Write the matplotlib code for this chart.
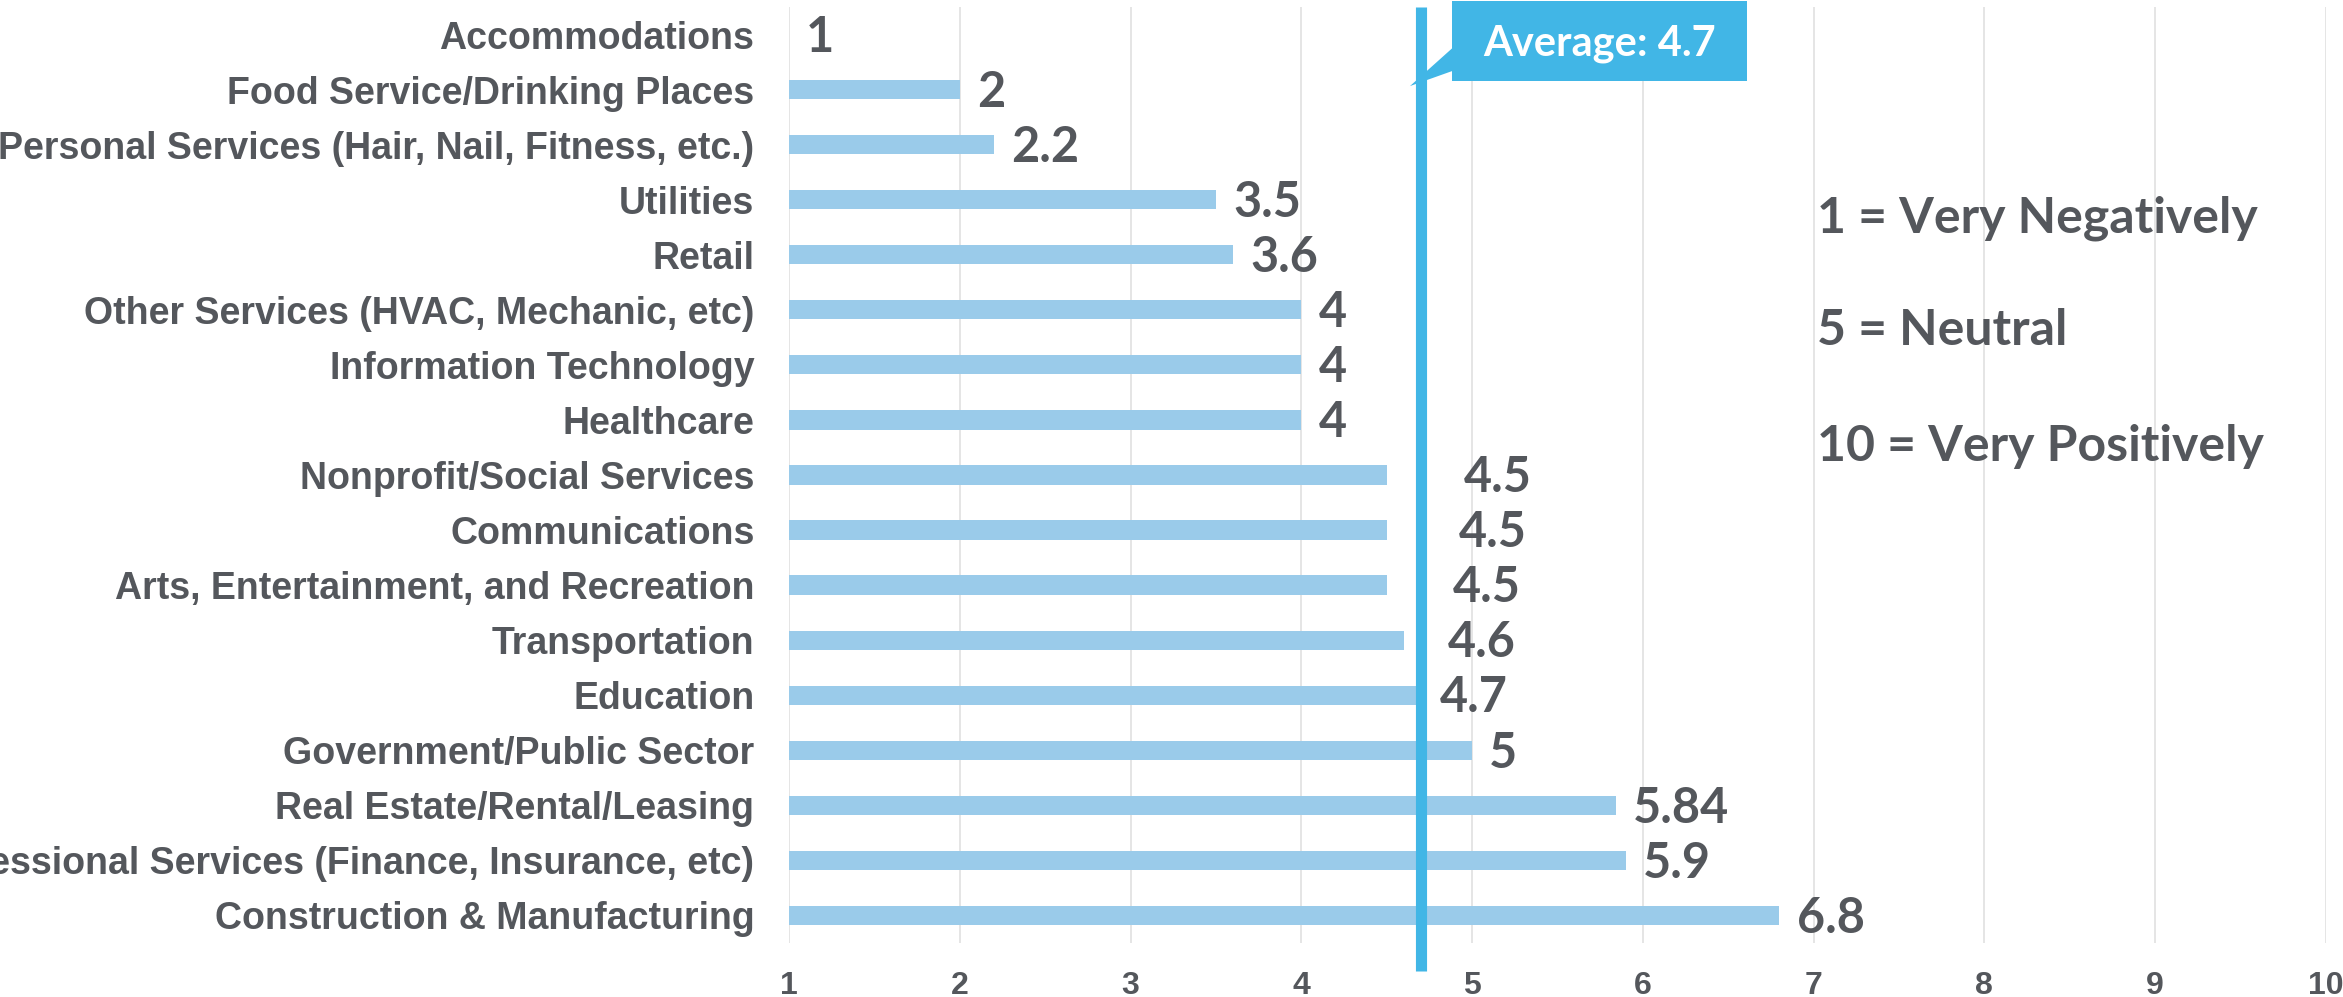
import matplotlib
matplotlib.use("Agg")
import matplotlib.pyplot as plt
from matplotlib.patches import Rectangle, Polygon
from matplotlib.transforms import blended_transform_factory

# data, top to bottom as shown
categories = [
    "Accommodations",
    "Food Service/Drinking Places",
    "Personal Services (Hair, Nail, Fitness, etc.)",
    "Utilities",
    "Retail",
    "Other Services (HVAC, Mechanic, etc)",
    "Information Technology",
    "Healthcare",
    "Nonprofit/Social Services",
    "Communications",
    "Arts, Entertainment, and Recreation",
    "Transportation",
    "Education",
    "Government/Public Sector",
    "Real Estate/Rental/Leasing",
    "Professional Services (Finance, Insurance, etc)",
    "Construction & Manufacturing",
]
scores = [1, 2, 2.2, 3.5, 3.6, 4, 4, 4, 4.5, 4.5, 4.5, 4.6, 4.7, 5, 5.84, 5.9, 6.8]
score_labels = ["1", "2", "2.2", "3.5", "3.6", "4", "4", "4", "4.5", "4.5", "4.5",
                "4.6", "4.7", "5", "5.84", "5.9", "6.8"]
average = 4.7
x_ticks = [1, 2, 3, 4, 5, 6, 7, 8, 9, 10]
scale_notes = ["1 = Very Negatively", "5 = Neutral", "10 = Very Positively"]

# label nudges so the numbers clear the average line
label_shift = [0.1] * 8 + [0.45, 0.42, 0.39, 0.26, 0.11, 0.1, 0.1, 0.1, 0.1]

GRAY = "#54575C"
BAR = "#9ACBEA"
AVG = "#41B6E6"
LABEL_FONT = "Liberation Sans"
NUM_FONT = "Lato"

fig = plt.figure(figsize=(23.43, 9.97), dpi=100)
ax = fig.add_axes([0.3368, 0.0542, 0.6559, 0.9388])

n = len(categories)
ypos = [n - 1 - i for i in range(n)]

ax.barh(ypos, [s - 1 for s in scores], left=1, height=0.35, color=BAR, zorder=2)

for y, s, lab, dx in zip(ypos, scores, score_labels, label_shift):
    ax.text(s + dx, y - 0.05, lab, ha="left", va="center", fontsize=35,
            fontfamily=NUM_FONT, fontweight="bold", color=GRAY, zorder=4)

ax.set_xlim(1, 10)
ax.set_ylim(-0.5, n - 0.5)
ax.set_xticks(x_ticks)
ax.set_xticklabels([str(t) for t in x_ticks])
ax.set_yticks(ypos)
ax.set_yticklabels(categories)

for lab in ax.get_yticklabels():
    lab.set_fontfamily(LABEL_FONT)
    lab.set_fontweight("bold")
    lab.set_fontsize(27)
    lab.set_color(GRAY)
for lab in ax.get_xticklabels():
    lab.set_fontfamily(LABEL_FONT)
    lab.set_fontweight("bold")
    lab.set_fontsize(23)
    lab.set_color(GRAY)

ax.tick_params(axis="y", length=0, pad=25)
ax.tick_params(axis="x", length=0, pad=20)
ax.grid(axis="x", color="#E3E3E3", linewidth=1.3, zorder=0)
ax.set_axisbelow(True)
for sp in ax.spines.values():
    sp.set_visible(False)

# average line and callout
trans = blended_transform_factory(ax.transData, ax.transAxes)
ax.plot([average, average], [-0.03, 1.0], transform=trans, color=AVG,
        linewidth=8, solid_capstyle="butt", clip_on=False, zorder=3)

box_x0, box_x1 = 4.88, 6.61
box_y0, box_y1 = 0.921, 1.006
ax.add_patch(Rectangle((box_x0, box_y0), box_x1 - box_x0, box_y1 - box_y0,
                       transform=trans, facecolor=AVG, edgecolor="none",
                       clip_on=False, zorder=5))
ax.add_patch(Polygon([(box_x0 + 0.01, 0.957), (box_x0 + 0.01, 0.932), (4.636, 0.9155)],
                     closed=True, transform=trans, facecolor=AVG, edgecolor="none",
                     clip_on=False, zorder=5))
ax.text((box_x0 + box_x1) / 2, (box_y0 + box_y1) / 2 - 0.003, "Average: %.1f" % average,
        transform=trans, ha="center", va="center", fontsize=30,
        fontfamily=NUM_FONT, fontweight="bold", color="white", zorder=6)

# scale notes
note_y = [0.781, 0.669, 0.552]
for t, yy in zip(scale_notes, note_y):
    fig.text(0.7757, yy, t, ha="left", va="center",
             fontsize=36, fontfamily=NUM_FONT, fontweight="bold", color=GRAY)

fig.savefig("out.png", dpi=100)
